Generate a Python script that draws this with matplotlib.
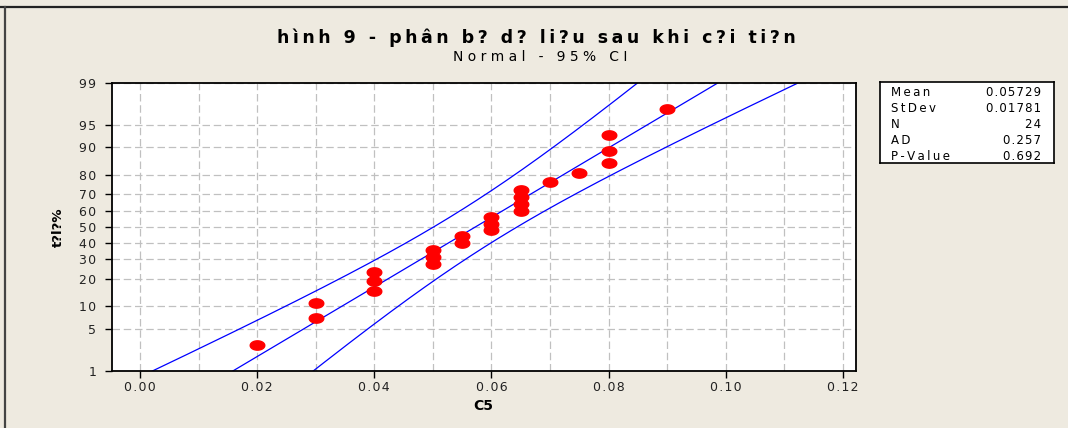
import matplotlib
matplotlib.use('Agg')
import matplotlib.pyplot as plt
import numpy as np
from statistics import NormalDist
from matplotlib.lines import Line2D
from matplotlib.path import Path

# data: C5 values (24 obs)
c5 = [0.020,
      0.030, 0.030,
      0.040, 0.040, 0.040,
      0.050, 0.050, 0.050,
      0.055, 0.055,
      0.060, 0.060, 0.060,
      0.065, 0.065, 0.065, 0.065,
      0.070,
      0.075,
      0.080, 0.080, 0.080,
      0.090]
pct_ticks = [1, 5, 10, 20, 30, 40, 50, 60, 70, 80, 90, 95, 99]
x_ticks = [0.00, 0.02, 0.04, 0.06, 0.08, 0.10, 0.12]
stat_names = ['Mean', 'StDev', 'N', 'AD', 'P-Value']
stat_values = ['0.05729', '0.01781', '24', '0.257', '0.692']
title = 'hình 9 - phân b? d? li?u sau khi c?i ti?n'
subtitle = 'Normal - 95% CI'

bg = '#EEEAE0'
nd = NormalDist()

def spaced(s, sep='\u2009'):
    # fake letter spacing like the minitab output
    return sep.join(s)

def z(p):
    return nd.inv_cdf(p / 100.0)

x = np.sort(np.array(c5))
n = len(x)
mu = x.mean()
sd = x.std(ddof=1)
# median ranks for plotting positions
ranks = np.arange(1, n + 1)
zpts = np.array([nd.inv_cdf((i - 0.3) / (n + 0.4)) for i in ranks])

# fitted line and 95% CI of percentiles
zz = np.linspace(-3, 3, 300)
fit = mu + zz * sd
se = sd * np.sqrt((1 + zz ** 2 / 2) / n)
lo = fit - 1.96 * se
hi = fit + 1.96 * se

fig = plt.figure(figsize=(10.68, 4.28), dpi=100, facecolor=bg)
ax = fig.add_axes([111.7 / 1068, 1 - 371 / 428, 744 / 1068, 288.3 / 428])
ax.set_facecolor('white')

# ellipse marker
t = np.linspace(0, 2 * np.pi, 40)
ell = Path(np.column_stack([0.75 * np.cos(t), 0.48 * np.sin(t)]), closed=True)

ax.plot(fit, zz, color='#0000FF', lw=0.9)
ax.plot(lo, zz, color='#0000FF', lw=0.9)
ax.plot(hi, zz, color='#0000FF', lw=0.9)
ax.plot(x, zpts, linestyle='None', marker=ell, markersize=10.5,
        color='#FF0000', markeredgecolor='#FF0000', zorder=5)

ax.set_xlim(-0.00483, 0.1222)
ax.set_ylim(z(1), z(99))
ax.set_xticks(x_ticks)
ax.set_xticklabels([spaced('%.2f' % v, '\u200a') for v in x_ticks], fontsize=9, color='#222222')
ax.set_xticks(np.arange(0.01, 0.12, 0.02), minor=True)
ax.set_yticks([z(p) for p in pct_ticks])
ax.set_yticklabels([spaced(str(p), '\u200a') for p in pct_ticks], fontsize=9, color='#222222')
ax.tick_params(axis='x', which='major', length=5, width=1, pad=2)
ax.tick_params(axis='x', which='minor', length=0)
ax.tick_params(axis='y', length=5, width=1, pad=6)
ax.grid(True, which='both', color='#C0C0C0', linestyle=(0, (6, 3)), lw=0.9)
ax.set_axisbelow(True)
for s in ax.spines.values():
    s.set_color('black')
    s.set_linewidth(1.3)

ax.set_xlabel('C5', fontsize=10, fontweight='bold', labelpad=4)
ax.set_ylabel('t?l?%', fontsize=9.5, fontweight='bold', labelpad=10)

fig.text(536 / 1068, 1 - 38 / 428, spaced(title), ha='center', va='center',
         fontsize=12.5, fontweight='bold')
fig.text(540 / 1068, 1 - 57 / 428, spaced(subtitle, ' '), ha='center', va='center',
         fontsize=10)

# stats box
box = fig.add_axes([880 / 1068, 1 - 163 / 428, 174 / 1068, 81 / 428])
box.set_xticks([])
box.set_yticks([])
box.set_facecolor('white')
for s in box.spines.values():
    s.set_linewidth(1.2)
rows_y = [92.3, 108.7, 124.4, 140.7, 156.5]
for name, val, ry in zip(stat_names, stat_values, rows_y):
    fy = 1 - ry / 428
    fig.text(891 / 1068, fy, spaced(name), ha='left', va='center', fontsize=8.5)
    fig.text(1041 / 1068, fy, spaced(val, '\u200a'), ha='right', va='center', fontsize=8.5)

# outer frame (top and left only visible)
fig.add_artist(Line2D([0, 1], [1 - 7 / 428] * 2, color='#222222', lw=1.6))
fig.add_artist(Line2D([5.5 / 1068] * 2, [0, 1 - 7 / 428], color='#444444', lw=1.6))

fig.savefig('out.png', dpi=100, facecolor=bg)
